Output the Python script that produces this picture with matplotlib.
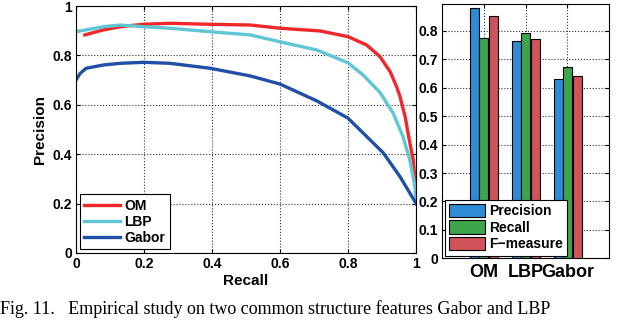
"""Precision-recall curves and bar summary for OM / LBP / Gabor features."""

import numpy as np
import matplotlib
matplotlib.use('Agg')
import matplotlib.pyplot as plt

# precision-recall curves
om_recall = [0.026, 0.08, 0.13, 0.197, 0.276, 0.394, 0.512, 0.6, 0.718, 0.8, 0.855,
             0.894, 0.924, 0.943, 0.953, 0.968, 0.982, 0.992, 1.0]
om_precision = [0.883, 0.903, 0.916, 0.926, 0.93, 0.926, 0.923, 0.91, 0.899, 0.876, 0.842,
                0.795, 0.734, 0.673, 0.633, 0.552, 0.445, 0.376, 0.25]

lbp_recall = [0.0, 0.08, 0.13, 0.2, 0.276, 0.394, 0.512, 0.6, 0.708, 0.8, 0.845,
              0.894, 0.933, 0.962, 0.982, 0.997, 1.0]
lbp_precision = [0.896, 0.916, 0.923, 0.916, 0.91, 0.896, 0.883, 0.855, 0.822, 0.77, 0.72,
                 0.65, 0.566, 0.47, 0.376, 0.268, 0.22]

gabor_recall = [0.0, 0.012, 0.03, 0.08, 0.13, 0.2, 0.276, 0.394, 0.512, 0.6, 0.708, 0.8,
                0.904, 0.953, 0.997, 1.0]
gabor_precision = [0.70, 0.727, 0.748, 0.761, 0.768, 0.772, 0.768, 0.748, 0.717, 0.684, 0.616,
                   0.546, 0.405, 0.309, 0.208, 0.2]

# bar summary
methods = ['OM', 'LBP', 'Gabor']
precision_vals = [0.88, 0.765, 0.632]
recall_vals = [0.776, 0.794, 0.674]
fmeasure_vals = [0.854, 0.771, 0.642]

caption = 'Fig. 11.   Empirical study on two common structure features Gabor and LBP'

plt.rcParams['font.family'] = ['Liberation Sans', 'DejaVu Sans']
plt.rcParams['font.weight'] = 'bold'

fig = plt.figure(figsize=(6.4, 3.2), dpi=100)

# left: PR curves
ax1 = fig.add_axes([76 / 640, 1 - 253 / 320, 340 / 640, 247 / 320])
ax1.plot(om_recall, om_precision, color='#f0282a', linewidth=2.4, label='OM')
ax1.plot(lbp_recall, lbp_precision, color='#5ec6d4', linewidth=2.4, label='LBP')
ax1.plot(gabor_recall, gabor_precision, color='#1f4fa6', linewidth=2.4, label='Gabor')
ax1.set_xlim(0, 1)
ax1.set_ylim(0, 1)
ax1.set_xticks([0, 0.2, 0.4, 0.6, 0.8, 1])
ax1.set_xticklabels(['0', '0.2', '0.4', '0.6', '0.8', '1'])
ax1.set_yticks([0, 0.2, 0.4, 0.6, 0.8, 1])
ax1.set_yticklabels(['0', '0.2', '0.4', '0.6', '0.8', '1'])
ax1.set_xlabel('Recall', fontsize=11, fontweight='bold', labelpad=2)
ax1.set_ylabel('Precision', fontsize=11, fontweight='bold', labelpad=4)
ax1.grid(True, linestyle=':', color='black', linewidth=0.8, alpha=0.8)
ax1.tick_params(direction='in', top=True, right=True, labelsize=10, length=3, pad=3)
leg1 = ax1.legend(loc='lower left', fontsize=10, handlelength=2.6, fancybox=False,
                  edgecolor='black', framealpha=1, borderaxespad=0.3,
                  labelspacing=0.15, handletextpad=0.3, borderpad=0.3)
leg1.get_frame().set_linewidth(0.8)

# right: bar chart
ax2 = fig.add_axes([442 / 640, 1 - 258.3 / 320, 167 / 640, 254.3 / 320])
x = np.arange(1, len(methods) + 1)
width = 0.215
ax2.bar(x - 0.22, precision_vals, width, color='#2e8bd6', edgecolor='black', linewidth=0.8,
        label='Precision', zorder=3)
ax2.bar(x, recall_vals, width, color='#3ea54b', edgecolor='black', linewidth=0.8,
        label='Recall', zorder=3)
ax2.bar(x + 0.235, fmeasure_vals, width, color='#d2525c', edgecolor='black', linewidth=0.8,
        label='F\u2212measure', zorder=3)
ax2.set_xlim(0, 4)
ax2.set_ylim(0, 0.895)
ax2.set_xticks(x)
ax2.set_xticklabels(methods, fontsize=13, fontweight='bold')
ax2.set_yticks(np.arange(0, 0.81, 0.1))
ax2.set_yticklabels(['0', '0.1', '0.2', '0.3', '0.4', '0.5', '0.6', '0.7', '0.8'])
ax2.grid(True, linestyle=':', color='black', linewidth=0.8, alpha=0.8, zorder=0)
ax2.tick_params(axis='y', direction='in', right=True, labelsize=10, length=3, pad=3)
ax2.tick_params(axis='x', direction='in', top=True, length=3, pad=4)
leg2 = ax2.legend(loc='lower left', fontsize=10, handlelength=2.6, handleheight=1.1,
                  fancybox=False, edgecolor='black', framealpha=1, borderaxespad=0.2,
                  labelspacing=0.15, handletextpad=0.3, borderpad=0.3)
leg2.get_frame().set_linewidth(0.8)
leg2.set_zorder(5)

# caption along the bottom edge
fig.text(0.0, 2 / 320, caption, ha='left', va='bottom', fontsize=13,
         family=['Liberation Serif', 'DejaVu Serif'], fontweight='normal')

plt.savefig('out.png', dpi=100)
plt.close(fig)
